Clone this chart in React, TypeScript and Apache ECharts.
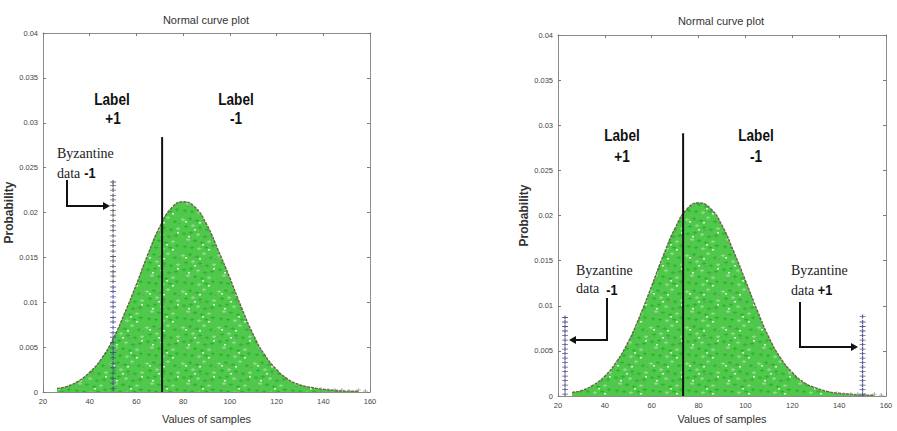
import React, { useEffect, useRef } from 'react';
import * as echarts from 'echarts';

// ---------- data ----------
const titleText = 'Normal curve plot';
const xAxisName = 'Values of samples';
const yAxisName = 'Probability';

// density curve (top edge of the green cloud)
const curveX = [26, 30, 35, 40, 45, 50, 55, 60, 65, 70, 75, 80, 85, 90, 95, 100, 105, 110, 115, 120, 125, 130, 135, 140, 145, 150, 155];
const curveLeft = [0.0004, 0.0006, 0.0012, 0.0022, 0.0037, 0.0059, 0.0088, 0.012, 0.0154, 0.0184, 0.0205, 0.0212, 0.0206, 0.0187, 0.0158, 0.0127, 0.0094, 0.0064, 0.0041, 0.0025, 0.0014, 0.0008, 0.0005, 0.0003, 0.0002, 0.0001, 0.0001];
const curveRight = [0.0004, 0.0006, 0.0012, 0.0022, 0.0038, 0.006, 0.0089, 0.0122, 0.0156, 0.0186, 0.0207, 0.0214, 0.0208, 0.0189, 0.016, 0.0128, 0.0095, 0.0065, 0.0042, 0.0026, 0.0015, 0.0009, 0.0005, 0.0003, 0.0002, 0.0001, 0.0001];

// sparse tail crosses near zero
const tailX = [139, 142, 145, 148, 151, 155, 158];
const tailY = [0.0003, 0.0002, 0.0002, 0.0002, 0.0001, 0.0002, 0.0001];

// separating lines
const splitLeftX = 71;
const splitLeftTop = 0.0284;
const splitRightX = 73.4;
const splitRightTop = 0.0291;

// Byzantine data columns
const byzLeftX = 50;
const byzLeftBlue = [0.0004, 0.001, 0.0015, 0.0021, 0.0027, 0.0032, 0.0038, 0.0044, 0.0049, 0.0055, 0.0061, 0.0066, 0.0072, 0.0078, 0.0083, 0.0089, 0.0095, 0.01, 0.0106, 0.0112, 0.0117];
const byzLeftDark = [0.0123, 0.0129, 0.0134, 0.014, 0.0146, 0.0151, 0.0157, 0.0163, 0.0168, 0.0174, 0.018, 0.0185, 0.0191, 0.0197, 0.0202, 0.0208, 0.0214, 0.0219, 0.0225, 0.023, 0.0234];
const byzRightAX = 23;
const byzRightBX = 150;
const byzRightA = [0.0002, 0.0007, 0.0012, 0.0017, 0.0022, 0.0027, 0.0032, 0.0037, 0.0042, 0.0047, 0.0052, 0.0057, 0.0062, 0.0067, 0.0072, 0.0077, 0.0082, 0.0087];
const byzRightB = [0.0002, 0.0007, 0.0012, 0.0017, 0.0022, 0.0027, 0.0032, 0.0037, 0.0042, 0.0047, 0.0052, 0.0057, 0.0062, 0.0067, 0.0072, 0.0077, 0.0082, 0.0088];

// ---------- styling ----------
const SANS = '"Liberation Sans", Arial, sans-serif';
const SERIF = '"Liberation Serif", "DejaVu Serif", serif';
const PLUS = 'path://M0,4H10V6H0Z M4,0H6V10H4Z';

function makeTexture(): HTMLCanvasElement {
  const c = document.createElement('canvas');
  c.width = 36;
  c.height = 36;
  const g = c.getContext('2d') as CanvasRenderingContext2D;
  g.fillStyle = '#4fc84b';
  g.fillRect(0, 0, 36, 36);
  const crosses = [[1, 2], [8, 1], [15, 3], [22, 0], [29, 4], [4, 9], [11, 8], [18, 10], [25, 12], [32, 11], [2, 16], [9, 15], [16, 17], [23, 19], [30, 18], [6, 22], [13, 23], [20, 25], [27, 24], [3, 29], [10, 30], [17, 31], [24, 30], [31, 28]];
  crosses.forEach(([x, y], i) => {
    g.fillStyle = i % 3 === 0 ? '#8fdb8a' : '#2fb52f';
    g.fillRect(x, y + 1, 4, 1.2);
    g.fillRect(x + 1.5, y, 1, 3.5);
  });
  const whites = [[5, 5], [19, 6], [14, 13], [33, 16], [8, 20], [22, 28], [28, 33]];
  g.fillStyle = '#dff3dc';
  whites.forEach(([x, y]) => g.fillRect(x, y, 2, 1.5));
  const grays = [[12, 5], [20, 14], [6, 26], [26, 20], [34, 7]];
  g.fillStyle = '#7f957a';
  grays.forEach(([x, y]) => g.fillRect(x, y, 3, 1));
  return c;
}

function axisBase(gridIndex: number) {
  return {
    gridIndex,
    axisLine: { show: true, onZero: false, lineStyle: { color: '#8c8c8c', width: 1 } },
    axisTick: { show: true, inside: true, length: 3, lineStyle: { color: '#7a7a7a' } },
    splitLine: { show: false },
  };
}

export default function App() {
  const ref = useRef<HTMLDivElement>(null);

  useEffect(() => {
    if (!ref.current) return;
    const chart = echarts.init(ref.current, null, { renderer: 'svg' });
    const tex = makeTexture();
    const pattern: any = { image: tex, repeat: 'repeat', imageWidth: 36, imageHeight: 36 };

    const labelStyle = { fontFamily: SANS, fontSize: 7.5, color: '#444' };
    const xAxes: any[] = [];
    const yAxes: any[] = [];
    [0, 1].forEach((gi) => {
      const base = axisBase(gi);
      xAxes.push({
        ...base, type: 'value', position: 'bottom', min: 20, max: 160, interval: 20,
        axisLabel: { ...labelStyle, margin: 5 },
        name: xAxisName, nameLocation: 'middle', nameGap: gi === 0 ? 21 : 14,
        nameTextStyle: { fontFamily: SANS, fontSize: 11, color: '#333' },
      });
      xAxes.push({
        ...base, type: 'value', position: 'top', min: 20, max: 160, interval: 20,
        axisLabel: { show: false },
      });
      yAxes.push({
        ...base, type: 'value', position: 'left', min: 0, max: 0.04, interval: 0.005,
        axisLabel: { ...labelStyle, margin: 5, formatter: (v: number) => String(+v.toFixed(3)) },
        name: yAxisName, nameLocation: 'middle', nameGap: gi === 0 ? 24 : 25,
        nameTextStyle: { fontFamily: SANS, fontSize: 12, fontWeight: 'bold', color: '#333' },
      });
      yAxes.push({
        ...base, type: 'value', position: 'right', min: 0, max: 0.04, interval: 0.005,
        axisLabel: { show: false },
      });
    });

    const curveSeries = (gi: number, vals: number[]) => ({
      type: 'line',
      xAxisIndex: gi * 2,
      yAxisIndex: gi * 2,
      data: curveX.map((x, i) => [x, vals[i]]),
      smooth: 0.5,
      symbol: 'none',
      lineStyle: { color: '#6b6446', width: 1.4, type: [3, 1] },
      areaStyle: { color: pattern, opacity: 1 },
      z: 2,
      silent: true,
    });
    const scatter = (gi: number, pts: number[][], color: string, size: number[] = [6, 4]) => ({
      type: 'scatter',
      xAxisIndex: gi * 2,
      yAxisIndex: gi * 2,
      data: pts,
      symbol: PLUS,
      symbolSize: size,
      itemStyle: { color },
      z: 4,
      silent: true,
    });
    const vline = (gi: number, x: number, top: number) => ({
      type: 'line',
      xAxisIndex: gi * 2,
      yAxisIndex: gi * 2,
      data: [[x, 0], [x, top]],
      symbol: 'none',
      lineStyle: { color: '#111', width: 2 },
      z: 6,
      silent: true,
    });

    const tail = tailX.map((x, i) => [x, tailY[i]]);

    const series: any[] = [
      curveSeries(0, curveLeft),
      curveSeries(1, curveRight),
      scatter(0, tail, '#8a8f85', [5, 4]),
      scatter(1, tail, '#8a8f85', [5, 4]),
      scatter(0, byzLeftBlue.map((v) => [byzLeftX, v]), '#3b3f8c'),
      scatter(0, byzLeftDark.map((v) => [byzLeftX, v]), '#3a3a4a'),
      scatter(1, byzRightA.map((v) => [byzRightAX, v]), '#2e3273'),
      scatter(1, byzRightB.map((v) => [byzRightBX, v]), '#2e3273'),
      vline(0, splitLeftX, splitLeftTop),
      vline(1, splitRightX, splitRightTop),
    ];

    const txt = (x: number, y: number, text: string, opts: any = {}) => ({
      type: 'text',
      x,
      y,
      z: 20,
      style: {
        text,
        fontFamily: SANS,
        fontSize: 15,
        fontWeight: 'bold',
        fill: '#111',
        align: 'center',
        verticalAlign: 'middle',
        ...opts,
      },
    });
    const narrowBold = (x: number, y: number, text: string, size = 15) => ({
      ...txt(x, y, text, { fontSize: size }),
      scaleX: 0.85,
    });
    const serif = (x: number, y: number, text: string) =>
      txt(x, y, text, { fontFamily: SERIF, fontSize: 14, fontWeight: 'normal', align: 'left', fill: '#222' });
    const arrow = (pts: number[][], dir: 'left' | 'right') => {
      const [ex, ey] = pts[pts.length - 1];
      const head = dir === 'right'
        ? [[ex, ey], [ex - 7, ey - 4], [ex - 7, ey + 4]]
        : [[ex, ey], [ex + 7, ey - 4], [ex + 7, ey + 4]];
      const shaft = pts.slice();
      shaft[shaft.length - 1] = [dir === 'right' ? ex - 6 : ex + 6, ey];
      return [
        { type: 'polyline', z: 20, shape: { points: shaft }, style: { stroke: '#111', lineWidth: 2, fill: null } },
        { type: 'polygon', z: 20, shape: { points: head }, style: { fill: '#111' } },
      ];
    };

    const graphic: any[] = [
      txt(206, 20, titleText, { fontSize: 11, fontWeight: 'normal', fill: '#333' }),
      txt(721, 21, titleText, { fontSize: 11, fontWeight: 'normal', fill: '#333' }),
      // left panel labels
      narrowBold(112, 100, 'Label', 16),
      narrowBold(113, 119, '+1', 16),
      narrowBold(236, 100, 'Label', 16),
      narrowBold(236, 119, '-1', 16),
      serif(57, 153, 'Byzantine'),
      serif(57, 173, 'data'),
      narrowBold(90, 173, '-1', 15),
      ...arrow([[67, 180], [67, 206], [110, 206]], 'right'),
      // right panel labels
      narrowBold(622, 136, 'Label', 16),
      narrowBold(622, 157, '+1', 16),
      narrowBold(756, 136, 'Label', 16),
      narrowBold(756, 157, '-1', 16),
      serif(576, 270, 'Byzantine'),
      serif(576, 288, 'data'),
      narrowBold(612, 290, '-1', 15),
      ...arrow([[607, 298], [607, 340], [569, 340]], 'left'),
      serif(791, 270, 'Byzantine'),
      serif(791, 290, 'data'),
      narrowBold(825, 290, '+1', 15),
      ...arrow([[800, 302], [800, 347], [858, 347]], 'right'),
    ];

    chart.setOption({
      animation: false,
      backgroundColor: '#ffffff',
      grid: [
        { left: 43, top: 33, width: 327, height: 359 },
        { left: 558, top: 35, width: 328, height: 361 },
      ],
      xAxis: xAxes,
      yAxis: yAxes,
      series,
      graphic,
    });
    return () => chart.dispose();
  }, []);

  return (
    <div
      ref={ref}
      style={{ position: 'fixed', left: 0, top: 0, width: 897, height: 431, background: '#fff' }}
    />
  );
}
